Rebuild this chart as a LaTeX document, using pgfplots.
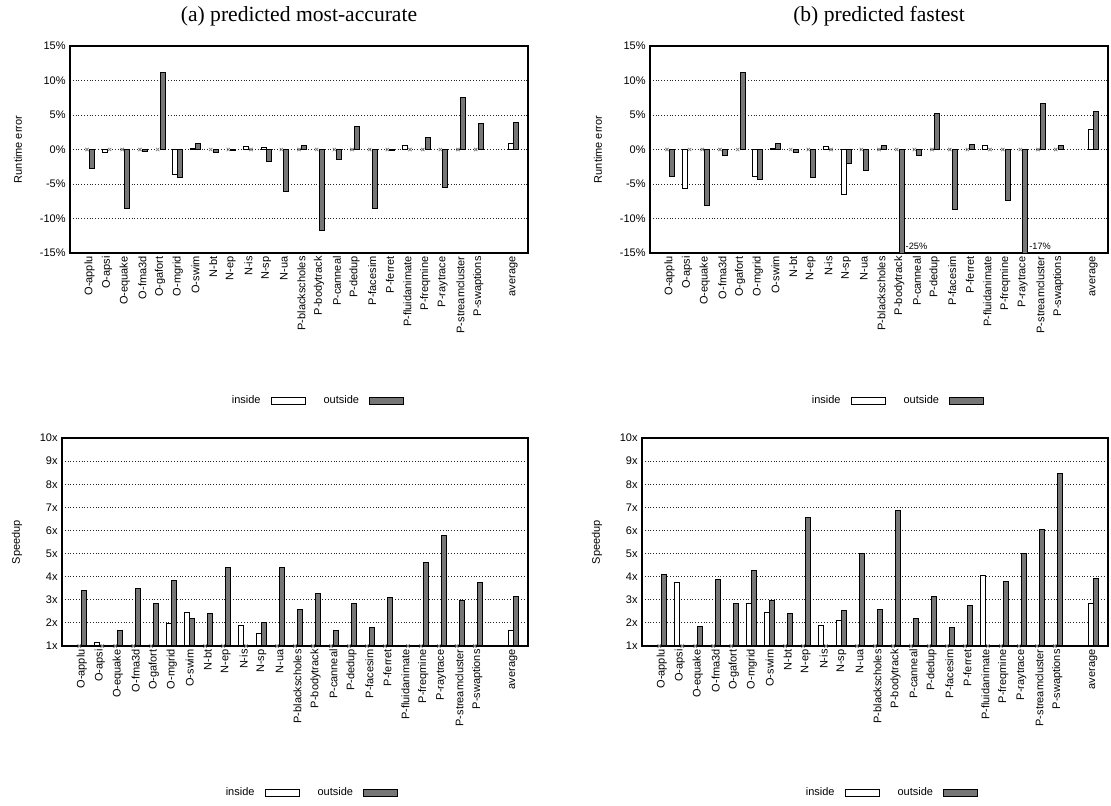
\documentclass[border=0pt]{standalone}
\usepackage{fontspec}
\setmainfont{Liberation Sans}
\newfontfamily\seriffont{Liberation Serif}
\usepackage{pgfplots}
\pgfplotsset{compat=1.18}
\definecolor{barg}{RGB}{118,118,118}
\newcommand{\tf}{\fontsize{5.5}{6.6}\selectfont}
\newcommand{\sfn}{\fontsize{4.6}{5.5}\selectfont}
\pgfplotsset{
  common/.style={
    scale only axis,
    xmin=-1.1, xmax=24.82,
    xtick={0,1,...,22,24},
    xticklabels={O-applu,O-apsi,O-equake,O-fma3d,O-gafort,O-mgrid,O-swim,N-bt,N-ep,N-is,N-sp,N-ua,P-blackscholes,P-bodytrack,P-canneal,P-dedup,P-facesim,P-ferret,P-fluidanimate,P-freqmine,P-raytrace,P-streamcluster,P-swaptions,average},
    xticklabel style={rotate=90, anchor=east, font=\tf, inner sep=1.5pt},
    yticklabel style={font=\tf, inner sep=2pt},
    major tick length=0pt,
    ymajorgrids,
    grid style={densely dotted, line width=0.45pt, black!85},
    axis line style={line width=0.7pt},
    label style={font=\tf},
    legend columns=2,
    legend plot pos=right,
    legend style={draw=none, fill=none, font=\tf, column sep=3pt, inner sep=0pt},
  },
  toprow/.style={common, width=229pt, height=103.5pt, ymin=-15, ymax=15,
    ytick={-15,-10,...,15},
    yticklabels={-15\%,-10\%,-5\%,0\%,5\%,10\%,15\%},
    ylabel={Runtime error},
    ylabel style={at={(axis description cs:-0.1135,0.5)}, anchor=center},
    legend style={at={(axis description cs:0.537,-0.715)}, anchor=center}},
  botrow/.style={common, width=233pt, height=104pt, ymin=1, ymax=10,
    ytick={1,...,10},
    yticklabels={1x,2x,3x,4x,5x,6x,7x,8x,9x,10x},
    ylabel={Speedup},
    ylabel style={at={(axis description cs:-0.0966,0.5)}, anchor=center},
    legend style={at={(axis description cs:0.532,-0.707)}, anchor=center}},
  inb/.style={ybar, bar width=0.28, bar shift=-0.14, fill=white, draw=black, line width=0.5pt,
    legend image code/.code={\draw[fill=white, draw=black, line width=0.5pt] (0pt,-1.8pt) rectangle (17pt,1.8pt);}},
  outb/.style={ybar, bar width=0.28, bar shift=0.14, fill=barg, draw=black, line width=0.5pt,
    legend image code/.code={\draw[fill=barg, draw=black, line width=0.5pt] (0pt,-1.8pt) rectangle (17pt,1.8pt);}},
  xm/.style={only marks, mark=x, mark size=1.2pt, color=black!50, mark options={line width=0.4pt}, forget plot},
}
\begin{document}
\begin{tikzpicture}
\path[use as bounding box] (0,0) rectangle (555.5pt,403pt);
\node[font=\seriffont\fontsize{10.8}{13}\selectfont] at (149.5pt,395pt) {(a) predicted most-accurate};
\node[font=\seriffont\fontsize{10.8}{13}\selectfont] at (439.5pt,395pt) {(b) predicted fastest};
% ---------- top left
\begin{axis}[toprow, at={(35pt,276.5pt)}, anchor=south west]
\addplot[inb] coordinates {(1,-0.4) (5,-3.6) (6,0.12) (9,0.5) (10,0.22) (18,0.63) (24,0.92)};
\addlegendentry{inside}
\addplot[outb] coordinates {(0,-2.75) (2,-8.6) (3,-0.25) (4,11.16) (5,-4.0) (6,0.87) (7,-0.4) (8,-0.12) (10,-1.7) (11,-6.1) (12,0.53) (13,-11.7) (14,-1.4) (15,3.3) (16,-8.6) (17,-0.12) (19,1.8) (20,-5.5) (21,7.5) (22,3.8) (24,3.96)};
\addlegendentry{\hspace{4pt}outside}
\addplot[xm] coordinates {(-0.14,0) (1.86,0) (2.86,0) (3.86,0) (6.86,0) (7.86,0) (10.86,0) (11.86,0) (12.86,0) (13.86,0) (14.86,0) (15.86,0) (16.86,0) (18.86,0) (19.86,0) (20.86,0) (21.86,0) (1.14,0) (9.14,0) (18.14,0)};
\end{axis}
% ---------- top right
\begin{axis}[toprow, at={(325pt,276.5pt)}, anchor=south west]
\addplot[inb] coordinates {(1,-5.65) (5,-3.9) (6,0.1) (9,0.5) (10,-6.5) (18,0.63) (24,2.85)};
\addlegendentry{inside}
\addplot[outb] coordinates {(0,-3.9) (2,-8.07) (3,-0.8) (4,11.16) (5,-4.35) (6,0.87) (7,-0.4) (8,-4.1) (10,-2.1) (11,-3.1) (12,0.53) (13,-25) (14,-0.8) (15,5.2) (16,-8.65) (17,0.72) (19,-7.34) (20,-17) (21,6.67) (22,0.58) (24,5.5)};
\addlegendentry{\hspace{4pt}outside}
\addplot[xm] coordinates {(-0.14,0) (1.86,0) (2.86,0) (3.86,0) (6.86,0) (7.86,0) (10.86,0) (11.86,0) (12.86,0) (13.86,0) (14.86,0) (15.86,0) (16.86,0) (18.86,0) (19.86,0) (20.86,0) (21.86,0) (1.14,0) (9.14,0) (18.14,0)};
\node[font=\sfn, anchor=west, inner sep=0.6pt] at (axis cs:13.28,-14.1) {-25\%};
\node[font=\sfn, anchor=west, inner sep=0.6pt] at (axis cs:20.28,-14.1) {-17\%};
\end{axis}
% ---------- bottom left
\begin{axis}[botrow, at={(31pt,80pt)}, anchor=south west]
\addplot[inb] coordinates {(1,1.16) (5,1.98) (6,2.43) (9,1.89) (10,1.53) (18,1.03) (24,1.66)};
\addlegendentry{inside}
\addplot[outb] coordinates {(0,3.38) (2,1.65) (3,3.5) (4,2.82) (5,3.84) (6,2.2) (7,2.4) (8,4.41) (10,2.0) (11,4.41) (12,2.59) (13,3.25) (14,1.65) (15,2.82) (16,1.79) (17,3.09) (19,4.61) (20,5.78) (21,2.99) (22,3.76) (24,3.15)};
\addlegendentry{\hspace{4pt}outside}
\addplot[xm] coordinates {(-0.14,1) (1.86,1) (2.86,1) (3.86,1) (6.86,1) (7.86,1) (10.86,1) (11.86,1) (12.86,1) (13.86,1) (14.86,1) (15.86,1) (16.86,1) (18.86,1) (19.86,1) (20.86,1) (21.86,1) (1.14,1) (9.14,1) (18.14,1)};
\end{axis}
% ---------- bottom right
\begin{axis}[botrow, at={(321pt,80pt)}, anchor=south west]
\addplot[inb] coordinates {(1,3.74) (5,2.85) (6,2.43) (9,1.89) (10,2.11) (18,4.06) (24,2.86)};
\addlegendentry{inside}
\addplot[outb] coordinates {(0,4.09) (2,1.84) (3,3.86) (4,2.82) (5,4.28) (6,2.99) (7,2.4) (8,6.55) (10,2.53) (11,4.99) (12,2.59) (13,6.85) (14,2.2) (15,3.16) (16,1.79) (17,2.77) (19,3.8) (20,4.99) (21,6.02) (22,8.47) (24,3.92)};
\addlegendentry{\hspace{4pt}outside}
\addplot[xm] coordinates {(-0.14,1) (1.86,1) (2.86,1) (3.86,1) (6.86,1) (7.86,1) (10.86,1) (11.86,1) (12.86,1) (13.86,1) (14.86,1) (15.86,1) (16.86,1) (18.86,1) (19.86,1) (20.86,1) (21.86,1) (1.14,1) (9.14,1) (18.14,1)};
\end{axis}
\end{tikzpicture}
\end{document}
